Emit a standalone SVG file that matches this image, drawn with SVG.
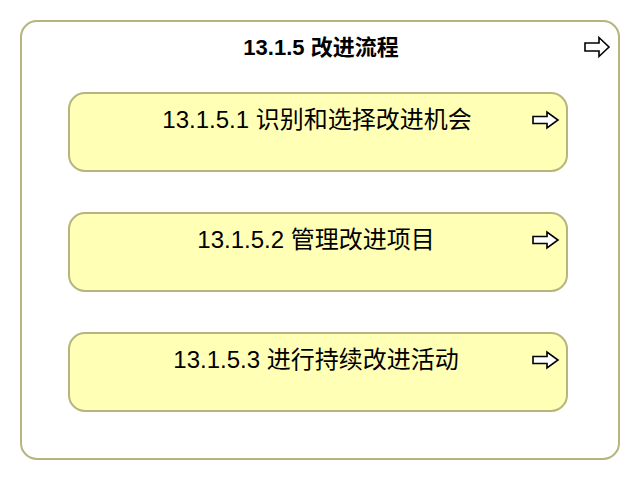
<svg xmlns="http://www.w3.org/2000/svg" width="640" height="480" viewBox="0 0 640 480">
<style>
.frame{fill:#ffffff;stroke:#b5b57d;stroke-width:2}
.box{fill:#ffffb5;stroke:#b5b57d;stroke-width:2}
.t{font-family:"Liberation Sans","Noto Sans CJK SC",sans-serif;font-size:24px;fill:#000;text-anchor:middle}
.tb{font-weight:bold;font-size:22px}
.ic{fill:#ffffff;stroke:#000;stroke-width:1.6;stroke-linejoin:miter}
</style>
<defs>
<path id="arr" d="M0,-4 H14 V-9.5 L24,0 L14,9.5 V4 H0 Z"/>
<path id="arr2" d="M0,-3.5 H14 V-8 L25,0 L14,8 V3.5 H0 Z"/>
</defs>
<rect width="640" height="480" fill="#ffffff"/>
<g id="container">
<rect class="frame" x="21" y="21" width="598" height="438" rx="16"/>
<text class="t tb" x="321" y="55">13.1.5 改进流程</text>
<use href="#arr" class="ic" x="585" y="47"/>
</g>
<g id="node1">
<rect class="box" x="69" y="93" width="498" height="78" rx="16"/>
<text class="t" x="317" y="128">13.1.5.1 识别和选择改进机会</text>
<use href="#arr2" class="ic" x="533" y="120"/>
</g>
<g id="node2">
<rect class="box" x="69" y="213" width="498" height="78" rx="16"/>
<text class="t" x="316" y="248">13.1.5.2 管理改进项目</text>
<use href="#arr2" class="ic" x="533" y="240"/>
</g>
<g id="node3">
<rect class="box" x="69" y="333" width="498" height="78" rx="16"/>
<text class="t" x="316" y="368">13.1.5.3 进行持续改进活动</text>
<use href="#arr2" class="ic" x="533" y="360"/>
</g>
<g id="connectors"></g>
</svg>
